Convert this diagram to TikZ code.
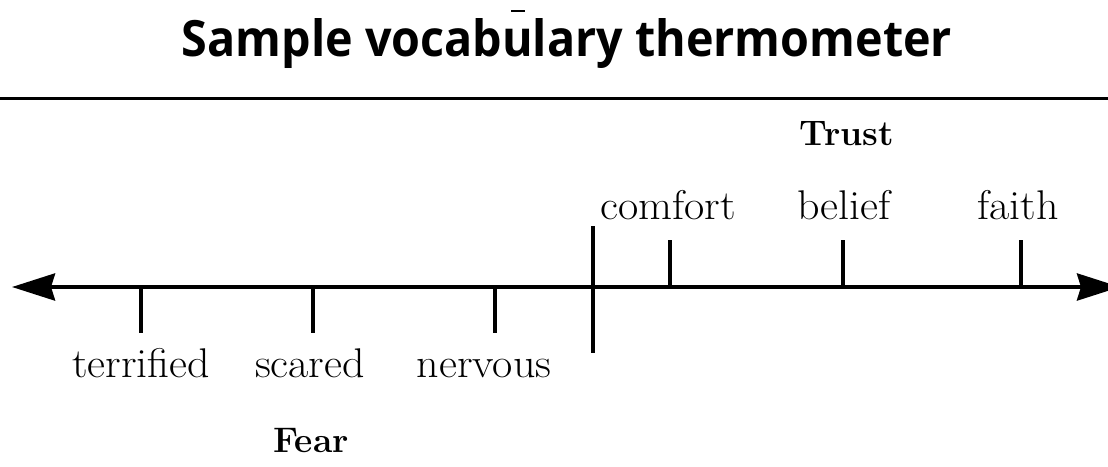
\documentclass[tikz,border=0pt]{standalone}
\usepackage{fontspec}
\usetikzlibrary{arrows.meta}
\newfontfamily\titlefont{Open Sans}
\newcommand{\widerword}[1]{\scalebox{1.06}[1]{#1}}
\begin{document}
\begin{tikzpicture}[x=1pt,y=-1pt,
  word/.style={anchor=base,inner sep=0pt,font=\fontsize{41.5}{44}\selectfont},
  head/.style={anchor=base,inner sep=0pt,font=\fontsize{35.5}{40}\selectfont\bfseries},
  tick/.style={line width=4pt},
  axis/.style={line width=4pt,{Stealth[length=43pt,width=27pt,inset=4pt]}-{Stealth[length=43pt,width=27pt,inset=4pt]}}]
\useasboundingbox (0,0) rectangle (1108,466);
% title
\node[anchor=base,inner sep=0pt] (title) at (567,56)
  {\resizebox{770pt}{38pt}{\titlefont\bfseries Sample vocabulary thermometer}};
\coordinate (m1) at (511,11); \coordinate (m2) at (525,11);
\draw[line width=2pt] (m1) -- (m2);
% rule
\coordinate (r1) at (0,98); \coordinate (r2) at (1108,98);
\draw[line width=3pt] (r1) -- (r2);
% axis
\coordinate (L) at (12,287); \coordinate (R) at (1120,287);
\draw[axis] (L) -- (R);
% divider
\coordinate (d1) at (593,226); \coordinate (d2) at (593,353);
\draw[tick] (d1) -- (d2);
% top ticks
\coordinate (c1) at (670,240); \coordinate (c2) at (670,287);
\coordinate (b1) at (843,240); \coordinate (b2) at (843,287);
\coordinate (f1) at (1021,240); \coordinate (f2) at (1021,287);
\draw[tick] (c1) -- (c2);
\draw[tick] (b1) -- (b2);
\draw[tick] (f1) -- (f2);
% bottom ticks
\coordinate (t1) at (141,287); \coordinate (t2) at (141,333);
\coordinate (s1) at (313,287); \coordinate (s2) at (313,333);
\coordinate (n1) at (495,287); \coordinate (n2) at (495,333);
\draw[tick] (t1) -- (t2);
\draw[tick] (s1) -- (s2);
\draw[tick] (n1) -- (n2);
% labels
\node[head] (trust) at (847,145) {Trust};
\node[word] (comfort) at (668,219) {\widerword{comfort}};
\node[word] (belief) at (844,219) {\widerword{belief}};
\node[word] (faith) at (1018,219) {\widerword{faith}};
\node[word] (terrified) at (141,377) {\widerword{terrified}};
\node[word] (scared) at (310,377) {\widerword{scared}};
\node[word] (nervous) at (484,377) {\widerword{nervous}};
\node[head] (fear) at (311,452) {Fear};
\end{tikzpicture}
\end{document}
